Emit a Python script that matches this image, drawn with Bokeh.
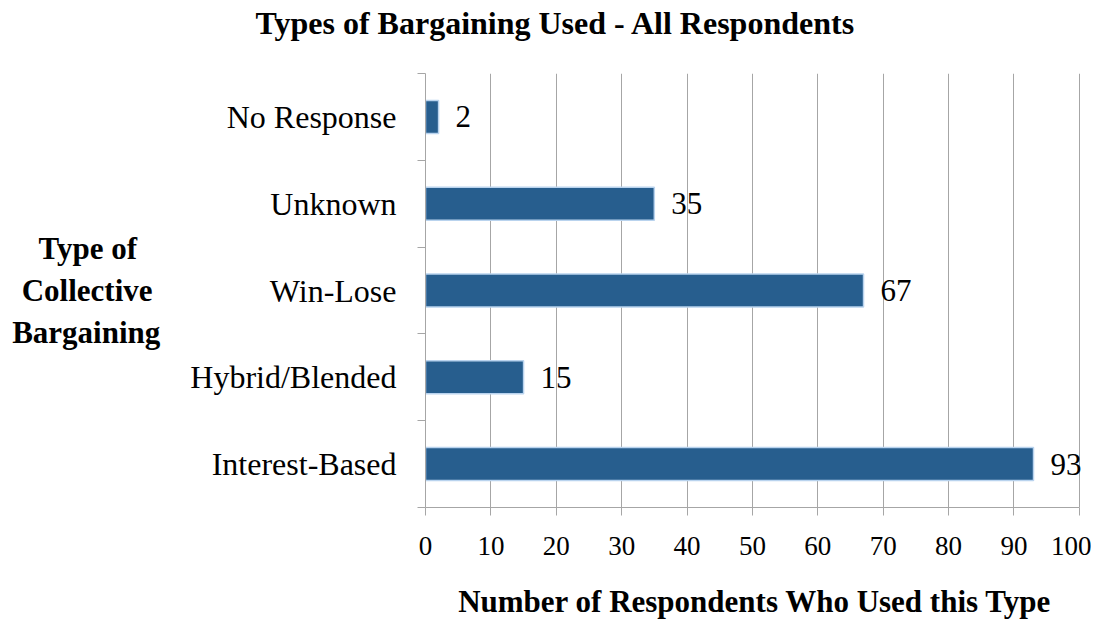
from bokeh.plotting import figure
from bokeh.models import FixedTicker, ColumnDataSource, Range1d, Title
from bokeh.embed import file_html
from bokeh.resources import INLINE
from bokeh.core.properties import value

categories = ["Interest-Based", "Hybrid/Blended", "Win-Lose", "Unknown", "No Response"]
counts = [93, 15, 67, 35, 2]
x_ticks = [0, 10, 20, 30, 40, 50, 60, 70, 80, 90, 100]
title_text = "Types of Bargaining Used - All Respondents"
x_title = "Number of Respondents Who Used this Type"
NB = "\u00a0"
y_title = "Type of" + NB * 3 + "\nCollective" + NB + "\nBargaining"

FONT = "Liberation Serif"
GRAY = "#A6A6A6"

ypos = [i + 0.5 for i in range(len(categories))]
bounds = [float(i) for i in range(len(categories) + 1)]
src = ColumnDataSource(dict(y=ypos, right=counts, label=[str(c) for c in counts]))

p = figure(frame_width=659, frame_height=434, output_backend="svg", toolbar_location=None,
           title=None,
           x_range=Range1d(0, 100.8), y_range=Range1d(0, len(categories)),
           min_border_left=425, min_border_right=7, min_border_top=73, min_border_bottom=110)
p.outline_line_color = None
p.background_fill_color = "white"

p.hbar(y="y", right="right", left=0, height=0.38, source=src,
       fill_color="#275E8E", line_color="#B9D3EE", line_width=1.5)
p.text(x="right", y="y", text="label", source=src, x_offset=17,
       text_baseline="middle", text_align="left",
       text_font=value(FONT), text_font_size="31px", text_color="black")

# spacer between frame and title (first-added above panel sits nearest the frame)
p.add_layout(Title(text=" ", text_font_size="10px", standoff=20), "above")
# chart title
p.add_layout(Title(text=title_text, align="left", offset=-170, text_font=FONT,
                   text_font_size="32px", text_font_style="bold", text_color="black",
                   standoff=0), "above")

# x axis
p.xaxis.ticker = FixedTicker(ticks=x_ticks)
p.xaxis.bounds = (0, 100)
p.xaxis.axis_line_color = GRAY
p.xaxis.major_tick_line_color = GRAY
p.xaxis.major_tick_out = 8
p.xaxis.major_tick_in = 0
p.xaxis.minor_tick_line_color = None
p.xaxis.major_label_text_font = FONT
p.xaxis.major_label_text_font_size = "27px"
p.xaxis.major_label_text_color = "black"
p.xaxis.major_label_standoff = 21
p.xaxis.axis_label = x_title
p.xaxis.axis_label_text_font = FONT
p.xaxis.axis_label_text_font_size = "31px"
p.xaxis.axis_label_text_font_style = "bold"
p.xaxis.axis_label_text_color = "black"
p.xaxis.axis_label_standoff = 26

# y axis
p.yaxis.ticker = FixedTicker(ticks=ypos, minor_ticks=bounds)
p.yaxis.major_label_overrides = {y: c for y, c in zip(ypos, categories)}
p.yaxis.axis_line_color = GRAY
p.yaxis.major_tick_line_color = None
p.yaxis.major_tick_out = 0
p.yaxis.major_tick_in = 0
p.yaxis.minor_tick_line_color = GRAY
p.yaxis.minor_tick_out = 8
p.yaxis.minor_tick_in = 0
p.yaxis.major_label_text_font = FONT
p.yaxis.major_label_text_font_size = "32px"
p.yaxis.major_label_text_color = "black"
p.yaxis.major_label_standoff = 21
p.yaxis.axis_label = y_title
p.yaxis.axis_label_orientation = "horizontal"
p.yaxis.axis_label_text_font = FONT
p.yaxis.axis_label_text_font_size = "31px"
p.yaxis.axis_label_text_font_style = "bold"
p.yaxis.axis_label_text_color = "black"
p.yaxis.axis_label_standoff = 27

p.xgrid.ticker = FixedTicker(ticks=x_ticks)
p.xgrid.grid_line_color = GRAY
p.xgrid.grid_line_width = 1
p.ygrid.grid_line_color = None

open("out.html", "w").write(file_html(p, INLINE))
